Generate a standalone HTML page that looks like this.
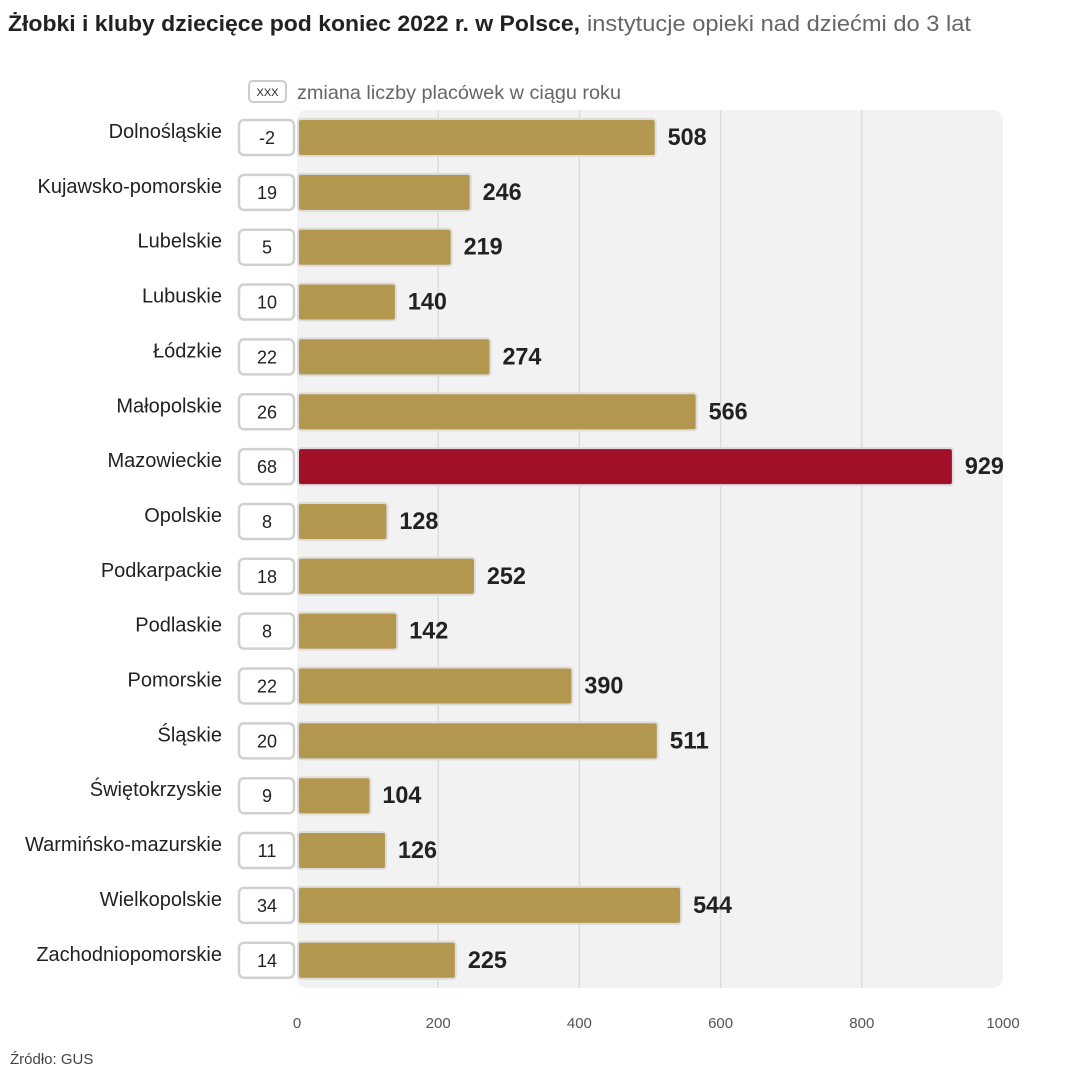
<!DOCTYPE html>
<html><head><meta charset="utf-8"><style>
body{margin:0;background:#fff;width:1080px;height:1080px;overflow:hidden;font-family:"Liberation Sans",sans-serif}
</style></head><body>
<svg id="c" width="1080" height="1080" xmlns="http://www.w3.org/2000/svg">
<text x="8" y="31" font-size="22" font-weight="bold" fill="#222" textLength="572" lengthAdjust="spacingAndGlyphs">Żłobki i kluby dziecięce pod koniec 2022 r. w Polsce,</text>
<text x="587" y="31" font-size="22" fill="#666" textLength="384" lengthAdjust="spacingAndGlyphs">instytucje opieki nad dziećmi do 3 lat</text>
<rect x="297" y="110" width="706" height="878" rx="10" fill="#f2f2f2"/>
<g>
<rect x="249" y="81" width="37" height="21" rx="4" fill="#fff" stroke="#ccc" stroke-width="2"/>
<text x="267.5" y="96" font-size="11" text-anchor="middle" fill="#222">XXX</text>
<text x="297" y="99" font-size="19.5" fill="#666" textLength="324" lengthAdjust="spacingAndGlyphs">zmiana liczby placówek w ciągu roku</text>
</g>
<g id="grid"></g><g id="bars"></g><g id="ticks"></g>
<text x="10" y="1064" font-size="15" fill="#444">Źródło: GUS</text>
</svg>
<script>
const categories=["Dolnośląskie","Kujawsko-pomorskie","Lubelskie","Lubuskie","Łódzkie","Małopolskie","Mazowieckie","Opolskie","Podkarpackie","Podlaskie","Pomorskie","Śląskie","Świętokrzyskie","Warmińsko-mazurskie","Wielkopolskie","Zachodniopomorskie"];
const values=[508,246,219,140,274,566,929,128,252,142,390,511,104,126,544,225];
const changes=[-2,19,5,10,22,26,68,8,18,8,22,20,9,11,34,14];
const tickValues=[0,200,400,600,800,1000];
const highlight="Mazowieckie";
const NS="http://www.w3.org/2000/svg";
const x=v=>297+v*0.706;
const y=i=>137+i*54.85;
function mk(t,a,p){const e=document.createElementNS(NS,t);for(const k in a)e.setAttribute(k,a[k]);p.appendChild(e);return e;}
const G=document.getElementById('grid'),B=document.getElementById('bars'),T=document.getElementById('ticks');
tickValues.forEach(v=>{
 if(v>0&&v<1000){const l=mk('line',{x1:x(v),x2:x(v),y1:110,y2:988,stroke:'#dcdcdc','stroke-width':1.5},G);
 
 }
 const t=mk('text',{x:x(v),y:1028,'font-size':15,'text-anchor':'middle',fill:'#555'},T);t.textContent=v;
 
 
});
categories.forEach((c,i)=>{
 const cy=y(i);
 const lab=mk('text',{x:222,y:cy+1,'font-size':20,'text-anchor':'end',fill:'#222'},B);lab.textContent=c;
 
 
 const bx=mk('rect',{x:239,y:cy-17,width:55,height:35,rx:5,fill:'#fff',stroke:'#d0d0d0','stroke-width':2.5},B);
 
 
 const bt=mk('text',{x:267,y:cy+7,'font-size':18,'text-anchor':'middle',fill:'#222'},B);bt.textContent=changes[i];
 
 
 const r=mk('rect',{x:298,y:cy-18,width:x(values[i])-298,height:37,rx:3,fill:c===highlight?'#a10f28':'#b3974e',stroke:'#dcdcdc','stroke-width':2},B);
 
 
 const s=String(values[i]);
 const vt=mk('text',{x:x(values[i])+12,y:cy+8,'font-size':24,'font-weight':'bold',fill:'#222',textLength:s.length*13,lengthAdjust:'spacingAndGlyphs'},B);vt.textContent=s;
 
 
});
</script>
</body></html>
